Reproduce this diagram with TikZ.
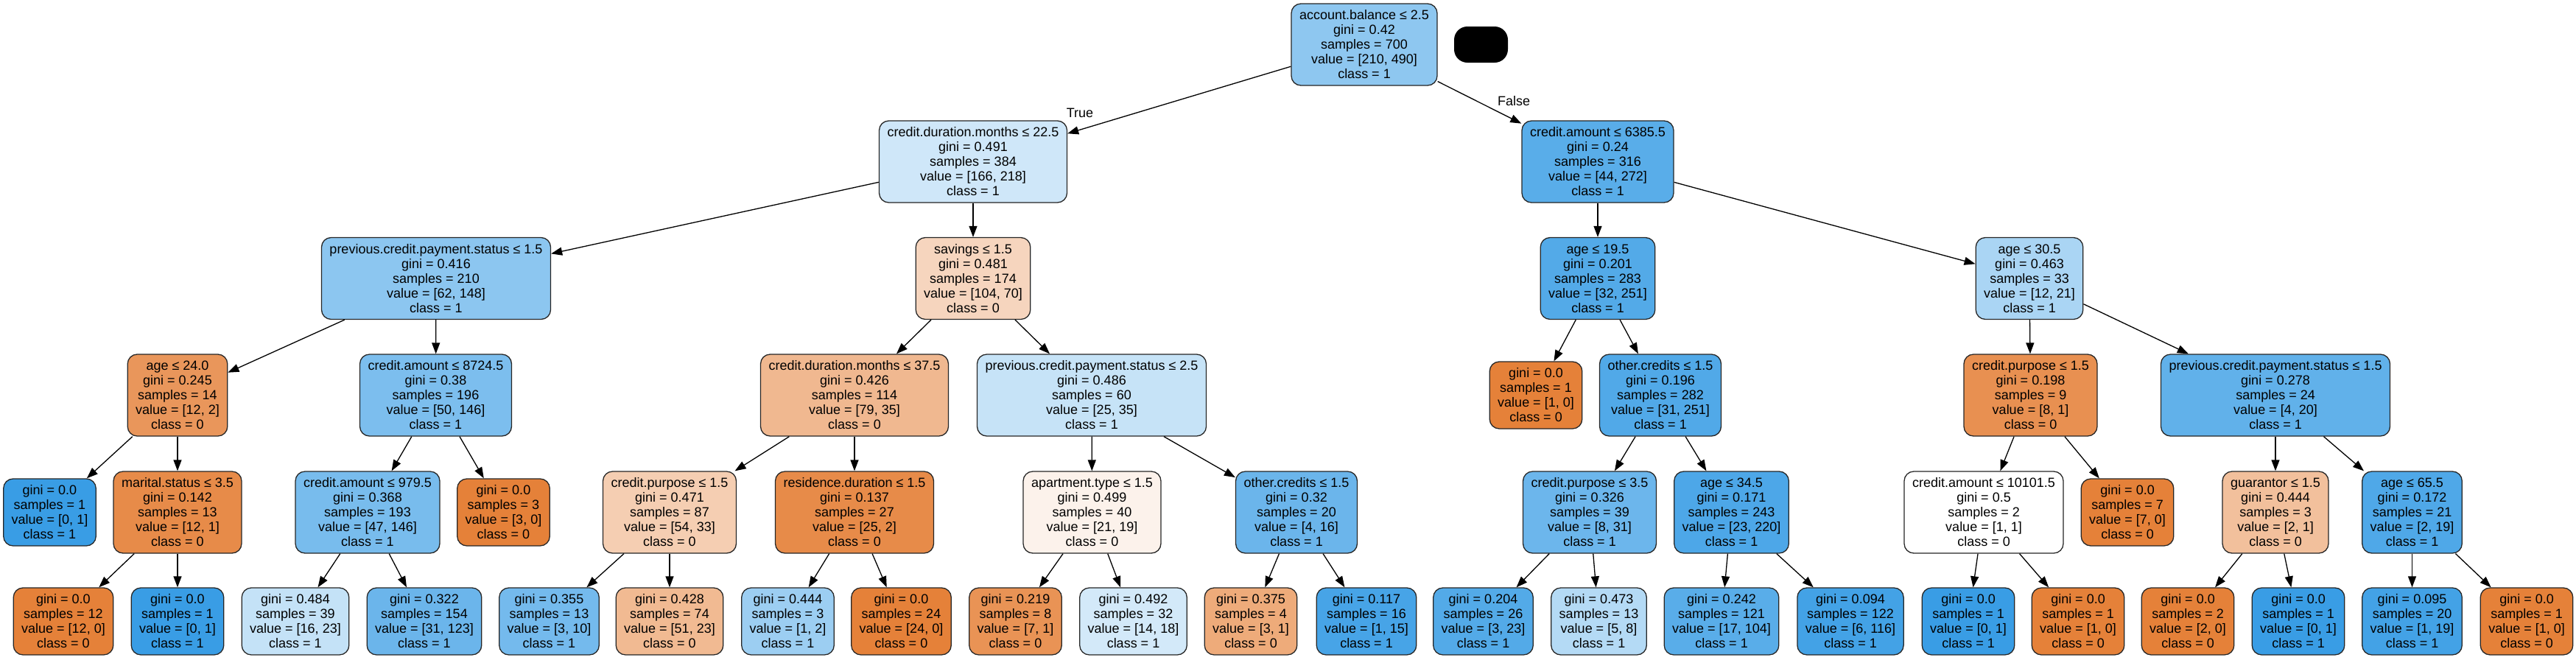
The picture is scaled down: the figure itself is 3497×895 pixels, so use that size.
\documentclass[tikz,border=0pt]{standalone}
\usepackage{fontspec}
\setmainfont{Liberation Sans}
\usepackage{tikz}
\usetikzlibrary{arrows.meta}
\definecolor{classzero}{HTML}{E58139}
\definecolor{classone}{HTML}{399DE5}

\begin{document}
\begin{tikzpicture}[
		x=1pt, y=-1pt,
		font=\fontsize{18}{20}\selectfont,
		splitnode/.style={draw=black!85, line width=1.3pt, rounded corners=13pt,
			align=center, inner xsep=11pt, inner ysep=0pt, minimum height=111pt},
		leafnode/.style={splitnode, minimum height=91pt},
		branch/.style={line width=1.3pt, -{Triangle[length=15pt, width=11pt]}}
	]
	\useasboundingbox (0,0) rectangle (3497,895);

	% depth 0
	\node[splitnode, fill=classone!57!white] (root) at (1852,60.5)
		{account.balance ≤ 2.5\\gini = 0.42\\samples = 700\\value = [210, 490]\\class = 1};
	\node[fill=black, rounded corners=18pt, minimum width=73pt, minimum height=49pt]
		(mask) at (2010.5,60.5) {};

	% depth 1
	\node[splitnode, fill=classone!24!white] (durA) at (1321,219.5)
		{credit.duration.months ≤ 22.5\\gini = 0.491\\samples = 384\\value = [166, 218]\\class = 1};
	\node[splitnode, fill=classone!84!white] (amtA) at (2169,219.5)
		{credit.amount ≤ 6385.5\\gini = 0.24\\samples = 316\\value = [44, 272]\\class = 1};

	% depth 2
	\node[splitnode, fill=classone!58!white] (payA) at (592,378)
		{previous.credit.payment.status ≤ 1.5\\gini = 0.416\\samples = 210\\value = [62, 148]\\class = 1};
	\node[splitnode, fill=classzero!33!white] (savA) at (1321,378)
		{savings ≤ 1.5\\gini = 0.481\\samples = 174\\value = [104, 70]\\class = 0};
	\node[splitnode, fill=classone!87!white] (ageA) at (2169,378)
		{age ≤ 19.5\\gini = 0.201\\samples = 283\\value = [32, 251]\\class = 1};
	\node[splitnode, fill=classone!43!white] (ageB) at (2755,378)
		{age ≤ 30.5\\gini = 0.463\\samples = 33\\value = [12, 21]\\class = 1};

	% depth 3
	\node[splitnode, fill=classzero!83!white] (ageC) at (241,536.5)
		{age ≤ 24.0\\gini = 0.245\\samples = 14\\value = [12, 2]\\class = 0};
	\node[splitnode, fill=classone!66!white] (amtB) at (591.5,536.5)
		{credit.amount ≤ 8724.5\\gini = 0.38\\samples = 196\\value = [50, 146]\\class = 1};
	\node[splitnode, fill=classzero!56!white] (durB) at (1160,536.5)
		{credit.duration.months ≤ 37.5\\gini = 0.426\\samples = 114\\value = [79, 35]\\class = 0};
	\node[splitnode, fill=classone!29!white] (payB) at (1482,536.5)
		{previous.credit.payment.status ≤ 2.5\\gini = 0.486\\samples = 60\\value = [25, 35]\\class = 1};
	\node[leafnode, fill=classzero] (lfA) at (2085,536.5)
		{gini = 0.0\\samples = 1\\value = [1, 0]\\class = 0};
	\node[splitnode, fill=classone!88!white] (othA) at (2254,536.5)
		{other.credits ≤ 1.5\\gini = 0.196\\samples = 282\\value = [31, 251]\\class = 1};
	\node[splitnode, fill=classzero!88!white] (purA) at (2756.5,536.5)
		{credit.purpose ≤ 1.5\\gini = 0.198\\samples = 9\\value = [8, 1]\\class = 0};
	\node[splitnode, fill=classone!80!white] (payC) at (3089,536.5)
		{previous.credit.payment.status ≤ 1.5\\gini = 0.278\\samples = 24\\value = [4, 20]\\class = 1};

	% depth 4
	\node[leafnode, fill=classone] (lfB) at (67.5,695.5)
		{gini = 0.0\\samples = 1\\value = [0, 1]\\class = 1};
	\node[splitnode, fill=classzero!92!white] (marA) at (241,695.5)
		{marital.status ≤ 3.5\\gini = 0.142\\samples = 13\\value = [12, 1]\\class = 0};
	\node[splitnode, fill=classone!68!white] (amtC) at (499,695.5)
		{credit.amount ≤ 979.5\\gini = 0.368\\samples = 193\\value = [47, 146]\\class = 1};
	\node[leafnode, fill=classzero] (lfC) at (683.5,695.5)
		{gini = 0.0\\samples = 3\\value = [3, 0]\\class = 0};
	\node[splitnode, fill=classzero!39!white] (purB) at (909,695.5)
		{credit.purpose ≤ 1.5\\gini = 0.471\\samples = 87\\value = [54, 33]\\class = 0};
	\node[splitnode, fill=classzero!92!white] (resA) at (1160,695.5)
		{residence.duration ≤ 1.5\\gini = 0.137\\samples = 27\\value = [25, 2]\\class = 0};
	\node[splitnode, fill=classzero!10!white] (aptA) at (1482.5,695.5)
		{apartment.type ≤ 1.5\\gini = 0.499\\samples = 40\\value = [21, 19]\\class = 0};
	\node[splitnode, fill=classone!75!white] (othB) at (1760,695.5)
		{other.credits ≤ 1.5\\gini = 0.32\\samples = 20\\value = [4, 16]\\class = 1};
	\node[splitnode, fill=classone!74!white] (purC) at (2158,695.5)
		{credit.purpose ≤ 3.5\\gini = 0.326\\samples = 39\\value = [8, 31]\\class = 1};
	\node[splitnode, fill=classone!90!white] (ageD) at (2350.5,695.5)
		{age ≤ 34.5\\gini = 0.171\\samples = 243\\value = [23, 220]\\class = 1};
	\node[splitnode, fill=white] (amtD) at (2693,695.5)
		{credit.amount ≤ 10101.5\\gini = 0.5\\samples = 2\\value = [1, 1]\\class = 0};
	\node[leafnode, fill=classzero] (lfD) at (2888,695.5)
		{gini = 0.0\\samples = 7\\value = [7, 0]\\class = 0};
	\node[splitnode, fill=classzero!50!white] (guaA) at (3089,695.5)
		{guarantor ≤ 1.5\\gini = 0.444\\samples = 3\\value = [2, 1]\\class = 0};
	\node[splitnode, fill=classone!89!white] (ageE) at (3274.5,695.5)
		{age ≤ 65.5\\gini = 0.172\\samples = 21\\value = [2, 19]\\class = 1};

	% depth 5
	\node[leafnode, fill=classzero] (lf1) at (86,843.5)
		{gini = 0.0\\samples = 12\\value = [12, 0]\\class = 0};
	\node[leafnode, fill=classone] (lf2) at (241,843.5)
		{gini = 0.0\\samples = 1\\value = [0, 1]\\class = 1};
	\node[leafnode, fill=classone!30!white] (lf3) at (401,843.5)
		{gini = 0.484\\samples = 39\\value = [16, 23]\\class = 1};
	\node[leafnode, fill=classone!75!white] (lf4) at (576,843.5)
		{gini = 0.322\\samples = 154\\value = [31, 123]\\class = 1};
	\node[leafnode, fill=classone!70!white] (lf5) at (745.5,843.5)
		{gini = 0.355\\samples = 13\\value = [3, 10]\\class = 1};
	\node[leafnode, fill=classzero!55!white] (lf6) at (909,843.5)
		{gini = 0.428\\samples = 74\\value = [51, 23]\\class = 0};
	\node[leafnode, fill=classone!50!white] (lf7) at (1069.5,843.5)
		{gini = 0.444\\samples = 3\\value = [1, 2]\\class = 1};
	\node[leafnode, fill=classzero] (lf8) at (1223.5,843.5)
		{gini = 0.0\\samples = 24\\value = [24, 0]\\class = 0};
	\node[leafnode, fill=classzero!86!white] (lf9) at (1378.5,843.5)
		{gini = 0.219\\samples = 8\\value = [7, 1]\\class = 0};
	\node[leafnode, fill=classone!22!white] (lf10) at (1538.5,843.5)
		{gini = 0.492\\samples = 32\\value = [14, 18]\\class = 1};
	\node[leafnode, fill=classzero!67!white] (lf11) at (1698,843.5)
		{gini = 0.375\\samples = 4\\value = [3, 1]\\class = 0};
	\node[leafnode, fill=classone!93!white] (lf12) at (1855,843.5)
		{gini = 0.117\\samples = 16\\value = [1, 15]\\class = 1};
	\node[leafnode, fill=classone!87!white] (lf13) at (2013.5,843.5)
		{gini = 0.204\\samples = 26\\value = [3, 23]\\class = 1};
	\node[leafnode, fill=classone!38!white] (lf14) at (2170.5,843.5)
		{gini = 0.473\\samples = 13\\value = [5, 8]\\class = 1};
	\node[leafnode, fill=classone!84!white] (lf15) at (2337,843.5)
		{gini = 0.242\\samples = 121\\value = [17, 104]\\class = 1};
	\node[leafnode, fill=classone!95!white] (lf16) at (2512,843.5)
		{gini = 0.094\\samples = 122\\value = [6, 116]\\class = 1};
	\node[leafnode, fill=classone] (lf17) at (2672,843.5)
		{gini = 0.0\\samples = 1\\value = [0, 1]\\class = 1};
	\node[leafnode, fill=classzero] (lf18) at (2821,843.5)
		{gini = 0.0\\samples = 1\\value = [1, 0]\\class = 0};
	\node[leafnode, fill=classzero] (lf19) at (2970,843.5)
		{gini = 0.0\\samples = 2\\value = [2, 0]\\class = 0};
	\node[leafnode, fill=classone] (lf20) at (3120,843.5)
		{gini = 0.0\\samples = 1\\value = [0, 1]\\class = 1};
	\node[leafnode, fill=classone!95!white] (lf21) at (3274.5,843.5)
		{gini = 0.095\\samples = 20\\value = [1, 19]\\class = 1};
	\node[leafnode, fill=classzero] (lf22) at (3430,843.5)
		{gini = 0.0\\samples = 1\\value = [1, 0]\\class = 0};

	% branches
	\draw[branch] (root) -- (durA);
	\draw[branch] (root) -- (amtA);
	\node (truelbl) at (1466,153) {True};
	\node (falselbl) at (2055,137) {False};
	\draw[branch] (durA) -- (payA);
	\draw[branch] (durA) -- (savA);
	\draw[branch] (amtA) -- (ageA);
	\draw[branch] (amtA) -- (ageB);
	\draw[branch] (payA) -- (ageC);
	\draw[branch] (payA) -- (amtB);
	\draw[branch] (savA) -- (durB);
	\draw[branch] (savA) -- (payB);
	\draw[branch] (ageA) -- (lfA);
	\draw[branch] (ageA) -- (othA);
	\draw[branch] (ageB) -- (purA);
	\draw[branch] (ageB) -- (payC);
	\draw[branch] (ageC) -- (lfB);
	\draw[branch] (ageC) -- (marA);
	\draw[branch] (amtB) -- (amtC);
	\draw[branch] (amtB) -- (lfC);
	\draw[branch] (durB) -- (purB);
	\draw[branch] (durB) -- (resA);
	\draw[branch] (payB) -- (aptA);
	\draw[branch] (payB) -- (othB);
	\draw[branch] (othA) -- (purC);
	\draw[branch] (othA) -- (ageD);
	\draw[branch] (purA) -- (amtD);
	\draw[branch] (purA) -- (lfD);
	\draw[branch] (payC) -- (guaA);
	\draw[branch] (payC) -- (ageE);
	\draw[branch] (marA) -- (lf1);
	\draw[branch] (marA) -- (lf2);
	\draw[branch] (amtC) -- (lf3);
	\draw[branch] (amtC) -- (lf4);
	\draw[branch] (purB) -- (lf5);
	\draw[branch] (purB) -- (lf6);
	\draw[branch] (resA) -- (lf7);
	\draw[branch] (resA) -- (lf8);
	\draw[branch] (aptA) -- (lf9);
	\draw[branch] (aptA) -- (lf10);
	\draw[branch] (othB) -- (lf11);
	\draw[branch] (othB) -- (lf12);
	\draw[branch] (purC) -- (lf13);
	\draw[branch] (purC) -- (lf14);
	\draw[branch] (ageD) -- (lf15);
	\draw[branch] (ageD) -- (lf16);
	\draw[branch] (amtD) -- (lf17);
	\draw[branch] (amtD) -- (lf18);
	\draw[branch] (guaA) -- (lf19);
	\draw[branch] (guaA) -- (lf20);
	\draw[branch] (ageE) -- (lf21);
	\draw[branch] (ageE) -- (lf22);
\end{tikzpicture}
\end{document}
